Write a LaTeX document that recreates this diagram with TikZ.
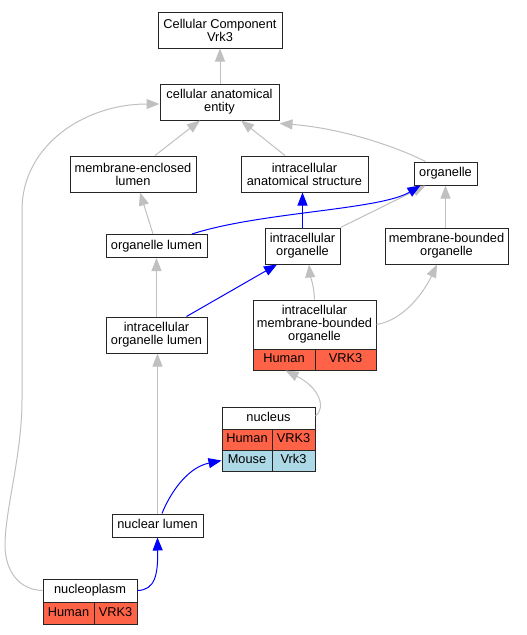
\documentclass[tikz,border=0pt]{standalone}
\usepackage{fontspec}
\setmainfont{Liberation Sans}
\usetikzlibrary{arrows.meta}
\definecolor{edgegray}{HTML}{C0C0C0}
\definecolor{human}{HTML}{FF6347}
\definecolor{mouse}{HTML}{ADD8E6}
\begin{document}
\begin{tikzpicture}[x=1pt,y=-1pt,
  box/.style={draw=black!85, line width=1pt, fill=white, inner sep=0pt, align=center,
    font=\fontsize{12.8}{13}\selectfont},
  one/.style={box, text height=9.2pt, text depth=2.6pt},
  hcell/.style={one, fill=human},
  mcell/.style={one, fill=mouse},
  gedge/.style={draw=edgegray, line width=1pt, -{Triangle[length=13pt,width=10pt]}},
  bedge/.style={draw=blue, line width=1pt, -{Triangle[length=13pt,width=10pt]}}]
\useasboundingbox[fill=white] (0,0) rectangle (527,635);

% nodes
\node[box, minimum width=124pt, minimum height=36pt] (cc) at (220,30) {Cellular Component\\Vrk3};
\node[box, minimum width=119pt, minimum height=36pt] (cae) at (219.5,102) {cellular anatomical\\entity};
\node[box, minimum width=126pt, minimum height=36pt] (mel) at (133,174) {membrane-enclosed\\lumen};
\node[box, minimum width=127pt, minimum height=36pt] (ias) at (304.5,174) {intracellular\\anatomical structure};
\node[one, minimum width=63pt, minimum height=23pt] (org) at (445.5,173.5) {organelle};
\node[one, minimum width=101pt, minimum height=23pt] (ol) at (156.5,246) {organelle lumen};
\node[box, minimum width=75pt, minimum height=36pt] (io) at (302.5,246) {intracellular\\organelle};
\node[box, minimum width=123pt, minimum height=36pt] (mbo) at (446.5,246) {membrane-bounded\\organelle};
\node[box, minimum width=101pt, minimum height=36pt] (iol) at (156.5,335) {intracellular\\organelle lumen};

\node[box, minimum width=123pt, minimum height=49pt] (imbo) at (314.5,324.5) {intracellular\\membrane-bounded\\organelle};
\node[hcell, minimum width=62pt, minimum height=21pt] (imbohs) at (284,359.5) {Human};
\node[hcell, minimum width=61pt, minimum height=21pt] (imbohg) at (345.5,359.5) {VRK3};

\node[one, minimum width=93pt, minimum height=22pt] (nuc) at (268.5,418) {nucleus};
\node[hcell, minimum width=50pt, minimum height=21pt] (nuchs) at (247,439.5) {Human};
\node[hcell, minimum width=43pt, minimum height=21pt] (nuchg) at (293.5,439.5) {VRK3};
\node[mcell, minimum width=50pt, minimum height=21pt] (nucms) at (247,460.5) {Mouse};
\node[mcell, minimum width=43pt, minimum height=21pt] (nucmg) at (293.5,460.5) {Vrk3};

\node[one, minimum width=91pt, minimum height=23pt] (nl) at (157.5,525.5) {nuclear lumen};

\node[one, minimum width=94pt, minimum height=23pt] (np) at (90,590.5) {nucleoplasm};
\node[hcell, minimum width=51pt, minimum height=22pt] (nphs) at (68.5,613) {Human};
\node[hcell, minimum width=43pt, minimum height=22pt] (nphg) at (115.5,613) {VRK3};

% edges
\draw[gedge] (cae.north -| cc.south) -- (cc.south);
\draw[gedge] ([xshift=22pt]mel.north) -- ([xshift=-19.5pt]cae.south);
\draw[gedge] ([xshift=-19.5pt]ias.north) -- ([xshift=21.5pt]cae.south);
\draw[gedge] ([xshift=12pt]org.north west) .. controls (395,146) and (340,128) .. ([yshift=-3pt]cae.south east);
\draw[gedge] (np.west) .. controls (20,590) and (5,572) .. (5,545)
  .. controls (5,510) and (22,455) .. (22,400) -- (22,210)
  .. controls (22,145) and (85,104) .. ([yshift=-2pt]cae.west);
\draw[gedge] ([xshift=-3.5pt]ol.north) -- ([xshift=7pt]mel.south);
\draw[gedge] (io.north east) -- ([xshift=-20pt]org.south);
\draw[bedge] ([xshift=35.5pt]ol.north) .. controls (260,212) and (380,210) .. ([xshift=-25pt]org.south);
\draw[bedge] (io.north) -- (io.north |- ias.south);
\draw[gedge] (mbo.north -| org.south) -- (org.south);
\draw[gedge] (iol.north) -- (ol.south);
\draw[bedge] ([xshift=30pt]iol.north) -- ([xshift=-25.5pt]io.south);
\draw[gedge] (imbo.north) .. controls (314,285) and (310,275) .. ([xshift=6.5pt]io.south);
\draw[gedge] (imbo.east) .. controls (405,320) and (425,290) .. ([xshift=-9.5pt]mbo.south);
\draw[gedge] ([yshift=2pt]nuc.east) .. controls (326,408) and (320,388) .. ([xshift=1.5pt]imbohs.south);
\draw[gedge] (nl.north) -- (nl.north |- iol.south);
\draw[bedge] ([xshift=4.5pt]nl.north) .. controls (168,498) and (185,468) .. (nucms.west);
\draw[bedge] (np.east) .. controls (155,590) and (158,575) .. (nl.south);
\end{tikzpicture}
\end{document}
